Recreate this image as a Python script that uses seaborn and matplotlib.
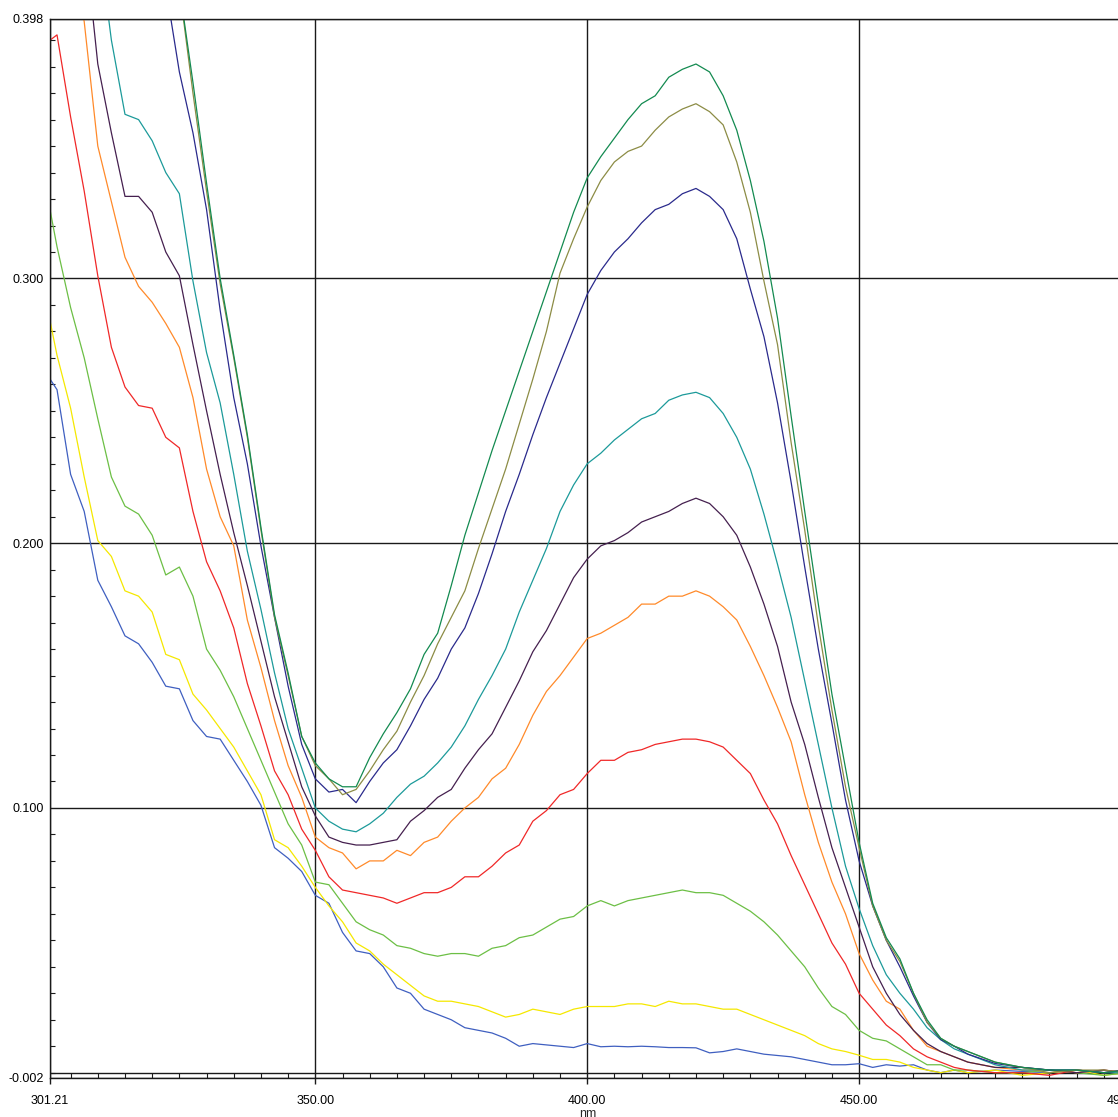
"""
UV-Vis absorbance spectra, ten runs overlaid (301-499 nm).
Redrawn with seaborn from the instrument screenshot.
"""

import numpy as np
import pandas as pd
import matplotlib
matplotlib.use("Agg")
import matplotlib.pyplot as plt
import seaborn as sns
from matplotlib.ticker import MultipleLocator

sns.set_style("white")
plt.rcParams.update({
    "font.family": ["Liberation Sans", "DejaVu Sans"],
    "font.size": 9,
})

nan = np.nan

# wavelength grid (nm)
wavelength = [
    301.21, 302.5, 305, 307.5, 310, 312.5, 315, 317.5, 320, 322.5,
    325, 327.5, 330, 332.5, 335, 337.5, 340, 342.5, 345, 347.5,
    350, 352.5, 355, 357.5, 360, 362.5, 365, 367.5, 370, 372.5,
    375, 377.5, 380, 382.5, 385, 387.5, 390, 392.5, 395, 397.5,
    400, 402.5, 405, 407.5, 410, 412.5, 415, 417.5, 420, 422.5,
    425, 427.5, 430, 432.5, 435, 437.5, 440, 442.5, 445, 447.5,
    450, 452.5, 455, 457.5, 460, 462.5, 465, 467.5,
    470, 475, 480, 485, 490, 495, 499.08,
]

abs_blue = [
    0.262, 0.258, 0.226, 0.212, 0.186, 0.176, 0.165, 0.162, 0.155, 0.146,
    0.145, 0.133, 0.127, 0.126, 0.118, 0.110, 0.101, 0.085, 0.081, 0.076,
    0.067, 0.064, 0.053, 0.046, 0.045, 0.040, 0.032, 0.030, 0.024, 0.022,
    0.020, 0.017, 0.016, 0.015, 0.013, 0.010, 0.011, 0.0105, 0.010, 0.0095,
    0.011, 0.0098, 0.010, 0.0098, 0.010, 0.0098, 0.0095, 0.0095, 0.0094, 0.0075,
    0.008, 0.009, 0.008, 0.007, 0.0065, 0.006, 0.005, 0.004, 0.003, 0.003,
    0.0034, 0.002, 0.003, 0.0025, 0.003, 0.001, 0.000, 0.001,
    0.000, 0.001, 0.0005, 0.000, 0.001, 0.000, 0.001,
]

abs_yellow = [
    0.284, 0.271, 0.251, 0.225, 0.201, 0.195, 0.182, 0.180, 0.174, 0.158,
    0.156, 0.143, 0.137, 0.130, 0.123, 0.114, 0.105, 0.088, 0.085, 0.078,
    0.070, 0.063, 0.057, 0.049, 0.046, 0.041, 0.037, 0.033, 0.029, 0.027,
    0.027, 0.026, 0.025, 0.023, 0.021, 0.022, 0.024, 0.023, 0.022, 0.024,
    0.025, 0.025, 0.025, 0.026, 0.026, 0.025, 0.027, 0.026, 0.026, 0.025,
    0.024, 0.024, 0.022, 0.020, 0.018, 0.016, 0.014, 0.011, 0.009, 0.008,
    0.0066, 0.005, 0.005, 0.004, 0.002, 0.001, 0.000, 0.001,
    0.000, 0.001, -0.001, 0.000, 0.001, -0.001, 0.000,
]

abs_lightgreen = [
    0.326, 0.312, 0.289, 0.270, 0.247, 0.225, 0.214, 0.211, 0.203, 0.188,
    0.191, 0.180, 0.160, 0.152, 0.142, 0.130, 0.118, 0.106, 0.094, 0.086,
    0.072, 0.071, 0.064, 0.057, 0.054, 0.052, 0.048, 0.047, 0.045, 0.044,
    0.045, 0.045, 0.044, 0.047, 0.048, 0.051, 0.052, 0.055, 0.058, 0.059,
    0.063, 0.065, 0.063, 0.065, 0.066, 0.067, 0.068, 0.069, 0.068, 0.068,
    0.067, 0.064, 0.061, 0.057, 0.052, 0.046, 0.040, 0.032, 0.025, 0.022,
    0.016, 0.013, 0.012, 0.009, 0.006, 0.003, 0.003, 0.001,
    0.001, 0.000, 0.000, 0.001, 0.000, -0.001, 0.000,
]

abs_red = [
    0.390, 0.392, 0.361, 0.333, 0.301, 0.274, 0.259, 0.252, 0.251, 0.240,
    0.236, 0.212, 0.193, 0.182, 0.168, 0.147, 0.131, 0.114, 0.105, 0.092,
    0.084, 0.074, 0.069, 0.068, 0.067, 0.066, 0.064, 0.066, 0.068, 0.068,
    0.070, 0.074, 0.074, 0.078, 0.083, 0.086, 0.095, 0.099, 0.105, 0.107,
    0.113, 0.118, 0.118, 0.121, 0.122, 0.124, 0.125, 0.126, 0.126, 0.125,
    0.123, 0.118, 0.113, 0.103, 0.094, 0.082, 0.071, 0.060, 0.049, 0.041,
    0.030, 0.024, 0.018, 0.014, 0.009, 0.006, 0.004, 0.002,
    0.001, 0.000, 0.000, -0.001, 0.001, 0.000, 0.001,
]

abs_orange = [
    nan, nan, 0.425, 0.397, 0.350, 0.329, 0.308, 0.297, 0.291, 0.283,
    0.274, 0.255, 0.228, 0.210, 0.199, 0.171, 0.153, 0.133, 0.116, 0.104,
    0.089, 0.085, 0.083, 0.077, 0.080, 0.080, 0.084, 0.082, 0.087, 0.089,
    0.095, 0.100, 0.104, 0.111, 0.115, 0.124, 0.135, 0.144, 0.150, 0.157,
    0.164, 0.166, 0.169, 0.172, 0.177, 0.177, 0.180, 0.180, 0.182, 0.180,
    0.176, 0.171, 0.161, 0.150, 0.138, 0.125, 0.105, 0.087, 0.072, 0.060,
    0.045, 0.035, 0.027, 0.024, 0.016, 0.010, 0.008, 0.006,
    0.004, 0.002, 0.001, 0.001, 0.000, 0.001, 0.000,
]

abs_purple = [
    nan, nan, nan, 0.430, 0.381, 0.355, 0.331, 0.331, 0.325, 0.310,
    0.301, 0.275, 0.250, 0.226, 0.204, 0.184, 0.163, 0.142, 0.125, 0.108,
    0.097, 0.089, 0.087, 0.086, 0.086, 0.087, 0.088, 0.095, 0.099, 0.104,
    0.107, 0.115, 0.122, 0.128, 0.138, 0.148, 0.159, 0.167, 0.177, 0.187,
    0.194, 0.199, 0.201, 0.204, 0.208, 0.210, 0.212, 0.215, 0.217, 0.215,
    0.210, 0.203, 0.191, 0.177, 0.161, 0.140, 0.124, 0.104, 0.085, 0.070,
    0.055, 0.040, 0.030, 0.022, 0.016, 0.011, 0.008, 0.006,
    0.004, 0.002, 0.002, 0.001, 0.000, 0.001, 0.000,
]

abs_teal = [
    nan, nan, nan, nan, 0.430, 0.390, 0.362, 0.360, 0.352, 0.340,
    0.332, 0.299, 0.272, 0.253, 0.226, 0.197, 0.175, 0.151, 0.130, 0.115,
    0.100, 0.095, 0.092, 0.091, 0.094, 0.098, 0.104, 0.109, 0.112, 0.117,
    0.123, 0.131, 0.141, 0.150, 0.160, 0.174, 0.186, 0.198, 0.212, 0.222,
    0.230, 0.234, 0.239, 0.243, 0.247, 0.249, 0.254, 0.256, 0.257, 0.255,
    0.249, 0.240, 0.228, 0.211, 0.192, 0.172, 0.148, 0.124, 0.100, 0.078,
    0.062, 0.048, 0.037, 0.030, 0.024, 0.017, 0.0125, 0.009,
    0.007, 0.003, 0.001, 0.001, 0.001, 0.000, 0.000,
]

abs_navy = [
    nan, nan, nan, nan, nan, nan, nan, nan, 0.440, 0.410,
    0.378, 0.355, 0.326, 0.288, 0.255, 0.230, 0.199, 0.172, 0.146, 0.124,
    0.111, 0.106, 0.107, 0.102, 0.110, 0.117, 0.122, 0.131, 0.141, 0.149,
    0.160, 0.168, 0.181, 0.196, 0.212, 0.226, 0.241, 0.255, 0.268, 0.281,
    0.294, 0.303, 0.310, 0.315, 0.321, 0.326, 0.328, 0.332, 0.334, 0.331,
    0.326, 0.315, 0.296, 0.278, 0.253, 0.223, 0.191, 0.160, 0.132, 0.103,
    0.080, 0.063, 0.050, 0.040, 0.029, 0.019, 0.0125, 0.010,
    0.007, 0.0035, 0.002, 0.001, 0.001, 0.000, 0.001,
]

abs_olive = [
    nan, nan, nan, nan, nan, nan, nan, nan, nan, 0.450,
    0.410, 0.370, 0.333, 0.298, 0.270, 0.240, 0.205, 0.172, 0.150, 0.127,
    0.116, 0.111, 0.105, 0.107, 0.114, 0.122, 0.129, 0.140, 0.150, 0.162,
    0.172, 0.182, 0.198, 0.213, 0.228, 0.245, 0.262, 0.280, 0.302, 0.315,
    0.327, 0.337, 0.344, 0.348, 0.350, 0.356, 0.361, 0.364, 0.366, 0.363,
    0.358, 0.344, 0.325, 0.299, 0.275, 0.238, 0.205, 0.169, 0.137, 0.108,
    0.085, 0.063, 0.050, 0.042, 0.030, 0.019, 0.013, 0.010,
    0.008, 0.004, 0.002, 0.000, 0.001, 0.001, 0.000,
]

abs_darkgreen = [
    nan, nan, nan, nan, nan, nan, nan, nan, nan, 0.450,
    0.410, 0.374, 0.336, 0.300, 0.271, 0.241, 0.206, 0.173, 0.151, 0.127,
    0.117, 0.111, 0.108, 0.108, 0.119, 0.128, 0.136, 0.145, 0.158, 0.166,
    0.184, 0.203, 0.219, 0.235, 0.250, 0.265, 0.280, 0.295, 0.310, 0.325,
    0.338, 0.346, 0.353, 0.360, 0.366, 0.369, 0.376, 0.379, 0.381, 0.378,
    0.369, 0.356, 0.337, 0.314, 0.285, 0.248, 0.212, 0.177, 0.143, 0.115,
    0.087, 0.064, 0.051, 0.043, 0.030, 0.020, 0.013, 0.010,
    0.008, 0.004, 0.002, 0.001, 0.001, 0.000, 0.001,
]

# draw order = acquisition order, later runs on top
RUNS = [
    ("run 1", abs_blue,       "#3f5fc0"),
    ("run 2", abs_yellow,     "#f5e800"),
    ("run 3", abs_lightgreen, "#6cbf45"),
    ("run 4", abs_red,        "#f02828"),
    ("run 5", abs_orange,     "#ff8a2a"),
    ("run 6", abs_purple,     "#45204f"),
    ("run 7", abs_teal,       "#1c9a9a"),
    ("run 8", abs_navy,       "#2a2a8c"),
    ("run 9", abs_olive,      "#8c8c45"),
    ("run 10", abs_darkgreen, "#138a50"),
]

df = pd.concat(
    [pd.DataFrame({"nm": wavelength, "absorbance": vals, "run": name})
     for name, vals, _ in RUNS],
    ignore_index=True,
).dropna()
palette = {name: color for name, _, color in RUNS}

W, H = 1118, 1117
fig = plt.figure(figsize=(W / 100, H / 100), dpi=100)
# plot frame runs slightly past the right edge, as in the screenshot
ax = fig.add_axes([50 / W, (H - 1078) / H, (1126 - 50) / W, (1078 - 19) / H])

sns.lineplot(
    data=df, x="nm", y="absorbance", hue="run",
    hue_order=[r[0] for r in RUNS], palette=palette,
    estimator=None, legend=False, linewidth=0.9, ax=ax,
)

ax.set_xlim(301.21, 499.08)
ax.set_ylim(-0.002, 0.398)

ax.set_xticks([301.21, 350, 400, 450, 499.08])
ax.set_xticklabels(["301.21", "350.00", "400.00", "450.00", "499.08"])
ax.set_yticks([-0.002, 0.1, 0.2, 0.3, 0.398])
ax.set_yticklabels(["-0.002", "0.100", "0.200", "0.300", "0.398"])
ax.xaxis.set_minor_locator(MultipleLocator(5))
ax.yaxis.set_minor_locator(MultipleLocator(0.01))

# seaborn "white" hides ticks; switch them back on
ax.tick_params(which="both", bottom=True, left=True, top=False, right=False,
               color="#1a1a1a")
ax.tick_params(axis="x", which="major", direction="out", length=4.3,
               width=1.0, pad=8, labelsize=9, labelcolor="black")
ax.tick_params(axis="x", which="minor", direction="in", length=3.6, width=0.8)
ax.tick_params(axis="y", which="major", length=0, pad=4.3, labelsize=9,
               labelcolor="black")
ax.tick_params(axis="y", which="minor", direction="in", length=3.6, width=0.8)

ax.grid(which="major", color="#1a1a1a", linewidth=1.0)
ax.axhline(0, color="#1a1a1a", linewidth=1.0, zorder=0.5)
for side in ("left", "right", "top", "bottom"):
    ax.spines[side].set_color("#1a1a1a")
    ax.spines[side].set_linewidth(1.0)

ax.set_xlabel("nm", fontsize=9, labelpad=1)
ax.set_ylabel("")

fig.savefig("out.png", dpi=100)
plt.close(fig)
